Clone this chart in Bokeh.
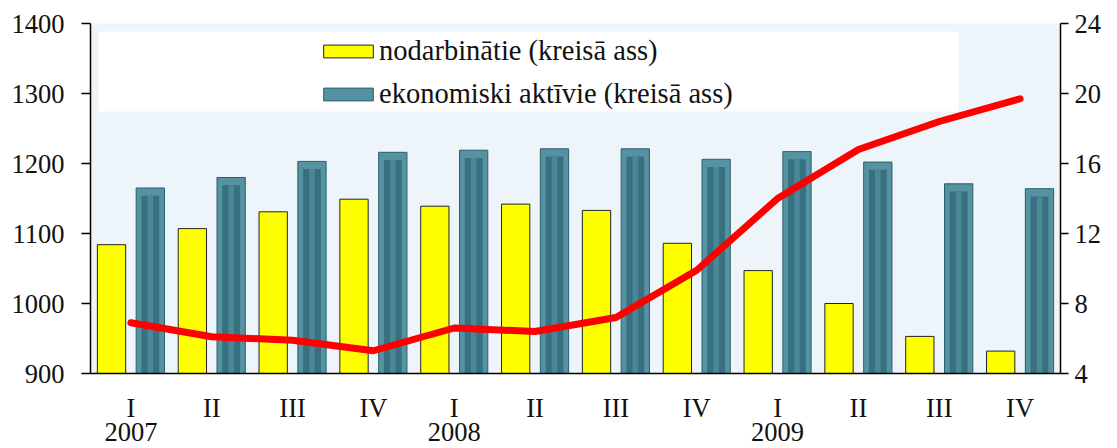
from bokeh.plotting import figure
from bokeh.models import (Range1d, LinearAxis, FixedTicker, ColumnDataSource,
                          Legend, LegendItem, BoxAnnotation)
from bokeh.embed import file_html
from bokeh.resources import INLINE

quarters = ["I", "II", "III", "IV"] * 3
years = ["2007", "", "", "", "2008", "", "", "", "2009", "", "", ""]
employed = [1084, 1107, 1131, 1149, 1139, 1142, 1133, 1086, 1047, 1000, 953, 932]
active = [1165, 1180, 1203, 1216, 1219, 1221, 1221, 1206, 1217, 1202, 1171, 1164]
unemployment_rate = [6.9, 6.1, 5.9, 5.3, 6.6, 6.4, 7.2, 9.9, 14.0, 16.8, 18.4, 19.7]

FONT = "Liberation Serif"
TICK_SIZE = "26.5px"
n = len(quarters)
xc = [i + 0.5 for i in range(n)]

src = ColumnDataSource(dict(
    x=xc,
    xe=[v - 0.24 for v in xc],
    xa=[v + 0.24 for v in xc],
    emp=employed,
    act=active,
    act_in=[a - 11 for a in active],
    rate=unemployment_rate,
))

p = figure(width=1113, height=447, x_range=Range1d(0, n), y_range=Range1d(900, 1400),
           output_backend="svg", toolbar_location=None,
           min_border_left=90, min_border_right=53, min_border_top=23, min_border_bottom=74)
p.extra_y_ranges = {"right": Range1d(4, 24)}
p.background_fill_color = "#edf5fa"
p.border_fill_color = "white"
p.outline_line_color = None
p.grid.visible = False

# white legend panel
p.add_layout(BoxAnnotation(left=0.1, right=10.74, top=1388.6, bottom=1274.3,
                           fill_color="white", fill_alpha=1.0, line_color=None, level="underlay"))

r_emp = p.vbar(x="xe", top="emp", bottom=900, width=0.35, source=src,
               fill_color="#ffff00", line_color="#222222", line_width=1)
r_act = p.vbar(x="xa", top="act", bottom=900, width=0.35, source=src,
               fill_color="#5592a2", line_color="#2c5f6c", line_width=1)
p.vbar(x="xa", top="act_in", bottom=900, width=0.22, source=src,
       fill_color="#37717f", line_color=None)
p.vbar(x="xa", top="act_in", bottom=900, width=0.07, source=src,
       fill_color="#4a8797", line_color=None)

p.line(x="x", y="rate", source=src, y_range_name="right",
       line_color="#ff0000", line_width=7, line_cap="round", line_join="round")

# x axis: quarters
ax = p.xaxis[0]
ax.ticker = FixedTicker(ticks=xc)
ax.major_label_overrides = {xc[i]: quarters[i] for i in range(n)}
ax.major_tick_line_color = None
ax.major_tick_out = 0
ax.major_tick_in = 0
ax.minor_tick_line_color = None
ax.minor_tick_out = 0
ax.axis_line_color = "black"
ax.axis_line_width = 1.5
ax.major_label_text_font = FONT
ax.major_label_text_font_size = TICK_SIZE
ax.major_label_text_color = "#111111"
ax.major_label_standoff = 19

# x axis: years
year_ticks = [xc[i] for i in range(n) if years[i]]
ax2 = LinearAxis(ticker=FixedTicker(ticks=year_ticks),
                 major_label_overrides={xc[i]: years[i] for i in range(n) if years[i]})
ax2.axis_line_color = None
ax2.major_tick_line_color = None
ax2.major_tick_out = 0
ax2.major_tick_in = 0
ax2.minor_tick_line_color = None
ax2.minor_tick_out = 0
ax2.major_label_text_font = FONT
ax2.major_label_text_font_size = TICK_SIZE
ax2.major_label_text_color = "#111111"
ax2.major_label_standoff = -3
p.add_layout(ax2, "below")

ay = p.yaxis[0]
ay.ticker = FixedTicker(ticks=[900, 1000, 1100, 1200, 1300, 1400])
ay.major_tick_in = 0
ay.major_tick_out = 9
ay.minor_tick_line_color = None
ay.axis_line_color = "black"
ay.axis_line_width = 1.5
ay.major_tick_line_width = 1.5
ay.major_label_text_font = FONT
ay.major_label_text_font_size = TICK_SIZE
ay.major_label_text_color = "#111111"
ay.major_label_standoff = 17

ar = LinearAxis(y_range_name="right", ticker=FixedTicker(ticks=[4, 8, 12, 16, 20, 24]))
ar.major_tick_in = 0
ar.major_tick_out = 8
ar.minor_tick_line_color = None
ar.axis_line_color = "black"
ar.axis_line_width = 1.5
ar.major_tick_line_width = 1.5
ar.major_label_text_font = FONT
ar.major_label_text_font_size = TICK_SIZE
ar.major_label_text_color = "#111111"
ar.major_label_standoff = 6
p.add_layout(ar, "right")

legend = Legend(items=[
    LegendItem(label="nodarbinātie (kreisā ass)", renderers=[r_emp]),
    LegendItem(label="ekonomiski aktīvie (kreisā ass)", renderers=[r_act]),
], location=(227, 262))
legend.background_fill_alpha = 0
legend.border_line_color = None
legend.padding = 0
legend.margin = 0
legend.spacing = 9
legend.glyph_width = 62
legend.glyph_height = 16
legend.label_height = 34
legend.label_standoff = 0
legend.label_text_font = FONT
legend.label_text_font_size = "28.5px"
legend.label_text_color = "#111111"
p.add_layout(legend, "center")

open("out.html", "w").write(file_html(p, INLINE))
